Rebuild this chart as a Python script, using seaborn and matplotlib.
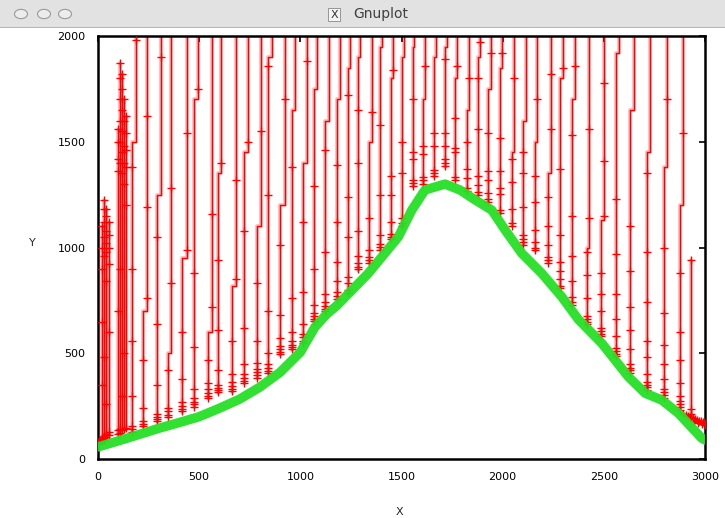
import pandas as pd
import numpy as np
import matplotlib.pyplot as plt
from matplotlib.patches import Rectangle, Circle
import seaborn as sns


# green curve (drawn with 'x' points in gnuplot)
green_x = [0, 150, 300, 400, 500, 600, 700, 800, 900, 1000, 1073, 1130, 1180, 1336,
           1485, 1551, 1616, 1715, 1789, 1864, 1946, 2012, 2094, 2193, 2292, 2374,
           2490, 2621, 2704, 2786, 2869, 2984, 3000]
green_y = [57, 100, 145, 172, 200, 240, 283, 340, 410, 505, 625, 685, 725, 878,
           1051, 1177, 1272, 1300, 1272, 1225, 1177, 1083, 973, 878, 767, 660,
           547, 389, 311, 279, 216, 98, 90]

# red trace: one vertical spike per column
spike_x = [22, 32, 42, 52, 98, 108, 118, 128, 140,
           166, 224, 290, 347, 417, 476, 542, 594, 661, 723, 784, 842, 900, 957,
           1015, 1069, 1122, 1180, 1234, 1287, 1341, 1394, 1448, 1501, 1556, 1608,
           1661, 1715, 1765, 1823, 1877, 1929, 1987, 2045, 2102, 2160, 2223, 2284,
           2345, 2416, 2486, 2559, 2630, 2712, 2795, 2877, 2931]
spike_base = [90, 100, 105, 115, 120, 125, 135, 140, 145,
              128, 153, 175, 199, 222, 246, 288, 312, 318, 358, 382, 405, 492, 515,
              547, 649, 696, 752, 783, 894, 925, 988, 1035, 1098, 1287, 1296,
              1335, 1382, 1319, 1265, 1250, 1215, 1160, 1100, 1010, 985, 925, 805,
              725, 634, 578, 484, 405, 326, 287, 232, 200]
spike_top = [1100, 1225, 1180, 1120, 1560, 1872, 1820, 1700, 1620,
             2100, 2100, 2100, 2100, 2100, 2100, 2100, 2100, 2100, 2100, 2100, 2100, 2100, 2100,
             2100, 2100, 2100, 2100, 2100, 2100, 2100, 2100, 2100, 2100, 2100, 2100,
             2100, 2100, 2100, 2100, 2100, 2100, 2100, 2100, 2100, 2100, 2100, 2100,
             2100, 2100, 2100, 2100, 2100, 2100, 2100, 2100, 941]
# sideways step of the upper part of each spike, and where it happens
spike_dx = [0, 0, 0, 0, 0, 0, 0, 0, 0,
            20, 18, 22, 16, 24, 18, 20, 15, 22, 18, 20, 16, 22, 18,
            20, 15, 18, 14, 12, 10, 12, 10, 12, 10, 8, 10,
            10, 8, 10, 12, 10, 12, 10, 12, 14, 12, 14, 16,
            14, 12, 14, 16, 18, 16, 18, 14, 0]
spike_join = [0, 0, 0, 0, 0, 0, 0, 0, 0,
              1500, 700, 1250, 500, 950, 1700, 600, 1350, 820, 1450, 1100, 1900, 1200, 1650,
              1400, 1750, 1600, 1700, 1850, 1900, 1500, 1950, 1800, 1900, 1950, 1700,
              1900, 1950, 1800, 1650, 1900, 1750, 1850, 1450, 1600, 1500, 1350, 1800,
              1700, 1000, 1130, 1920, 1650, 1450, 1380, 1200, 0]
spike_marks = [
    [90, 100, 350, 650, 900, 1000, 1100],
    [100, 110, 480, 960, 1050, 1120, 1180, 1225],
    [105, 120, 260, 840, 980, 1020, 1080, 1150, 1180],
    [115, 130, 600, 920, 1000, 1060, 1120],
    [120, 135, 700, 1360, 1420, 1500, 1560],
    [125, 140, 900, 1400, 1500, 1600, 1700, 1800, 1872],
    [135, 300, 1350, 1450, 1550, 1650, 1750, 1820],
    [140, 500, 1300, 1400, 1480, 1600, 1700],
    [145, 1200, 1380, 1460, 1540, 1620],
    [130, 140, 155, 300, 560, 900, 1380, 1980],
    [155, 165, 180, 240, 470, 760, 1190, 1620],
    [178, 188, 200, 215, 350, 640, 1050, 1900],
    [200, 210, 225, 240, 420, 830, 1280],
    [225, 235, 250, 270, 380, 600, 990, 1540],
    [248, 258, 270, 290, 330, 530, 880, 1750],
    [290, 300, 312, 330, 360, 470, 720, 1160],
    [315, 325, 338, 352, 420, 610, 940, 1400],
    [320, 330, 345, 365, 400, 560, 850, 1320],
    [360, 370, 385, 400, 450, 620, 1080, 1500],
    [385, 395, 410, 425, 455, 560, 830, 1550],
    [408, 418, 432, 448, 500, 700, 1250, 1860],
    [495, 505, 518, 535, 570, 680, 1010, 1700],
    [518, 528, 540, 556, 600, 760, 1380],
    [550, 560, 575, 592, 640, 790, 1120, 1880],
    [652, 662, 675, 690, 730, 900, 1290],
    [700, 710, 722, 740, 780, 980, 1460],
    [755, 770, 790, 840, 930, 1120, 1390],
    [786, 800, 830, 860, 1050, 1240, 1720],
    [897, 910, 925, 960, 1080, 1400, 1650],
    [928, 940, 955, 990, 1140, 1640],
    [990, 1002, 1015, 1060, 1250, 1580],
    [1038, 1050, 1065, 1120, 1250, 1340, 1840],
    [1100, 1115, 1140, 1350, 1500],
    [1290, 1305, 1320, 1420, 1450, 1700],
    [1300, 1320, 1335, 1440, 1480, 1860],
    [1338, 1350, 1365, 1480, 1540],
    [1385, 1400, 1420, 1480, 1540, 1890],
    [1320, 1335, 1450, 1470, 1610, 1860],
    [1265, 1280, 1330, 1370, 1500, 1800],
    [1250, 1262, 1295, 1340, 1560, 1800, 1970],
    [1215, 1230, 1260, 1320, 1360, 1540, 1920],
    [1162, 1178, 1255, 1280, 1360, 1520, 1920],
    [1100, 1118, 1180, 1310, 1420, 1800],
    [1012, 1025, 1040, 1060, 1190, 1350, 1450],
    [988, 1000, 1025, 1085, 1215, 1340, 1700],
    [928, 940, 955, 1010, 1100, 1240, 1560, 1820],
    [808, 820, 850, 890, 930, 1060, 1370, 1850],
    [728, 740, 765, 840, 960, 1150, 1530, 1860],
    [636, 648, 660, 675, 760, 870, 980, 1140, 1560],
    [580, 592, 605, 620, 700, 780, 880, 1150, 1410, 1780],
    [486, 498, 510, 525, 580, 660, 780, 970, 1230],
    [408, 420, 432, 448, 520, 610, 720, 890, 1100],
    [328, 340, 352, 366, 400, 480, 560, 740, 980, 1350],
    [290, 302, 315, 330, 380, 450, 540, 690, 1000, 1700],
    [234, 246, 258, 272, 300, 360, 470, 600, 880, 1540],
    [200, 215, 235, 941],
]

# bits of the red trace at the two ends
start_x = [0, 5, 12, 20, 28]
start_y = [72, 82, 90, 95, 88]
end_x = [2890, 2905, 2915, 2925, 2940, 2950, 2960, 2970, 2980, 2990, 2998, 2998, 2985, 2965, 2945]
end_y = [215, 210, 205, 200, 195, 190, 185, 182, 178, 175, 170, 160, 165, 172, 180]


# build tables
rows = []
for i in range(len(spike_x)):
    x0 = spike_x[i]
    dx = spike_dx[i]
    if dx:
        pts = [(x0 + dx, spike_top[i]), (x0 + dx, spike_join[i]),
               (x0, spike_join[i]), (x0, spike_base[i])]
    else:
        pts = [(x0, spike_top[i]), (x0, spike_base[i])]
    for px, py in pts:
        rows.append({'x': px, 'y': py, 'unit': i})
n = len(spike_x)
for px, py in zip(start_x, start_y):
    rows.append({'x': px, 'y': py, 'unit': n})
for px, py in zip(end_x, end_y):
    rows.append({'x': px, 'y': py, 'unit': n + 1})
red_lines = pd.DataFrame(rows)

mrows = []
for i in range(len(spike_x)):
    for y in spike_marks[i]:
        xx = spike_x[i]
        if spike_dx[i] and y > spike_join[i]:
            xx = spike_x[i] + spike_dx[i]
        mrows.append({'x': xx, 'y': y})
for px, py in zip(start_x + end_x, start_y + end_y):
    mrows.append({'x': px, 'y': py})
red_marks = pd.DataFrame(mrows)

green = pd.DataFrame({'x': green_x, 'y': green_y})


sns.set_style("white")
plt.rcParams['font.family'] = ['DejaVu Sans']

fig = plt.figure(figsize=(7.25, 5.18), dpi=100)
ax = fig.add_axes([98 / 725, 1 - 459 / 518, 607 / 725, 423 / 518])

# soft halo + core, like the screenshot's smeared red lines
sns.lineplot(data=red_lines, x='x', y='y', units='unit', estimator=None, sort=False,
             color='#ff0000', lw=2.6, alpha=0.3, ax=ax, zorder=2)
sns.lineplot(data=red_lines, x='x', y='y', units='unit', estimator=None, sort=False,
             color='#ff0000', lw=1.0, ax=ax, zorder=2)
sns.scatterplot(data=red_marks, x='x', y='y', marker='+', s=32, color='#ff0000',
                linewidth=1.0, ax=ax, zorder=3)
sns.lineplot(data=green, x='x', y='y', sort=False, color='#26e026', lw=6.8, alpha=0.95,
             ax=ax, zorder=4, solid_capstyle='round', solid_joinstyle='round')

ax.set_xlim(0, 3000)
ax.set_ylim(0, 2000)
ax.set_xticks([0, 500, 1000, 1500, 2000, 2500, 3000])
ax.set_yticks([0, 500, 1000, 1500, 2000])
ax.tick_params(direction='in', length=4, width=1.2, labelsize=8, top=True, right=True,
               pad=9, colors='black')
for s in ax.spines.values():
    s.set_linewidth(1.8)
    s.set_color('black')
ax.set_xlabel('X', fontsize=8)
ax.set_ylabel('Y', fontsize=8, rotation=0)
ax.xaxis.set_label_coords(0.497, -0.113)
ax.yaxis.set_label_coords(-0.108, 0.5)

# window title bar of the screenshot
fig.patches.append(Rectangle((0, 1 - 27 / 518), 1, 27 / 518, transform=fig.transFigure,
                             facecolor='#e2e2e2', edgecolor='none', zorder=0))
fig.patches.append(Rectangle((0, 1 - 28 / 518), 1, 1 / 518, transform=fig.transFigure,
                             facecolor='#b5b5b5', edgecolor='none', zorder=0))
for cx in [21, 44, 65]:
    fig.patches.append(Circle((cx / 725, 1 - 14 / 518), 6.5 / 725, transform=fig.transFigure,
                              facecolor='#ececec', edgecolor='#9a9a9a', lw=0.8))
fig.patches.append(Rectangle((328 / 725, 1 - 21 / 518), 12 / 725, 13 / 518,
                             transform=fig.transFigure, facecolor='#f4f4f4',
                             edgecolor='#888888', lw=0.6))
fig.text(334 / 725, 1 - 14.5 / 518, 'X', ha='center', va='center', fontsize=8, color='#333333')
fig.text(381 / 725, 1 - 14 / 518, 'Gnuplot', ha='center', va='center', fontsize=10,
         color='#404040')

fig.savefig('out.png', dpi=100)
